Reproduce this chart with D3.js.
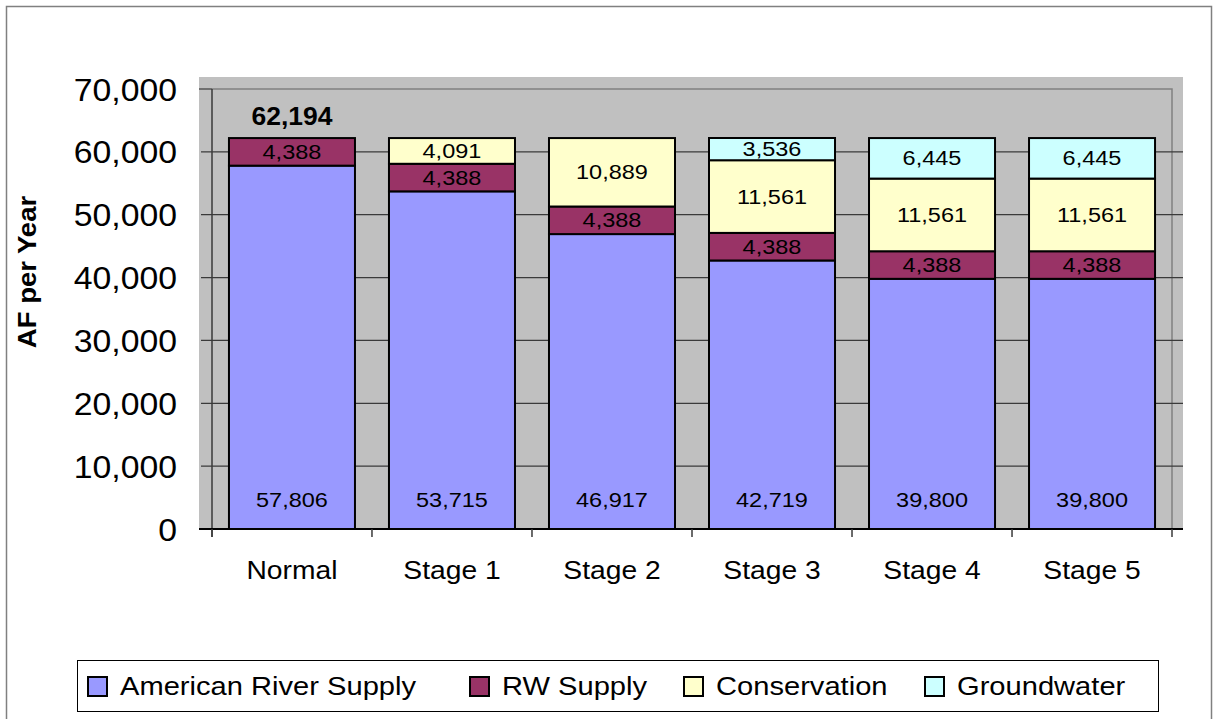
<!DOCTYPE html>
<html>
<head>
<meta charset="utf-8">
<script src="https://cdn.jsdelivr.net/npm/d3@7"></script>
<style>
  body { margin: 0; background: #fff; }
  svg { display: block; font-family: Arial, "Liberation Sans", sans-serif; }
</style>
</head>
<body>
<svg></svg>
<script>
var width = 1218;
var height = 719;

// data
var categories = ["Normal", "Stage 1", "Stage 2", "Stage 3", "Stage 4", "Stage 5"];
var seriesNames = ["American River Supply", "RW Supply", "Conservation", "Groundwater"];
var american = [57806, 53715, 46917, 42719, 39800, 39800];
var rwSupply = [4388, 4388, 4388, 4388, 4388, 4388];
var conservation = [0, 4091, 10889, 11561, 11561, 11561];
var groundwater = [0, 0, 0, 3536, 6445, 6445];
var yTicks = [0, 10000, 20000, 30000, 40000, 50000, 60000, 70000];
var colors = ["#9999FF", "#993366", "#FFFFCC", "#CCFFFF"];

var rows = categories.map(function(c, i) {
  return { cat: c, s0: american[i], s1: rwSupply[i], s2: conservation[i], s3: groundwater[i] };
});

var fmt = d3.format(",");
var SX = 1.12; // excel text comes out a bit wider than arial

// place a text at (px, py), stretched horizontally around that point
function stretched(sel, px, py, sx) {
  sel.attr("x", px).attr("y", py)
     .attr("transform", function(d, i) {
        var xx = typeof px === "function" ? px(d, i) : px;
        var yy = typeof py === "function" ? py(d, i) : py;
        return "translate(" + xx + "," + yy + ") scale(" + sx + ",1) translate(" + (-xx) + "," + (-yy) + ")";
     });
  return sel;
}

var svg = d3.select('svg')
            .attr('width', width)
            .attr('height', height);

// outer chart border
svg.append("rect")
   .attr("x", 6.5).attr("y", 6.5)
   .attr("width", 1205).attr("height", 720)
   .attr("fill", "none").attr("stroke", "#808080").attr("stroke-width", 1.5);

var x = d3.scaleBand()
          .domain(categories)
          .range([212, 1172])
          .paddingInner(0.2125)
          .paddingOuter(0.106);

var y = d3.scaleLinear()
          .domain([0, 70000])
          .range([529, 89]);

// plot area fill
svg.append("rect")
   .attr("x", 199).attr("y", 77)
   .attr("width", 984).attr("height", y(0) - 77)
   .attr("fill", "#C0C0C0");

// inner frame (top / right)
svg.append("path")
   .attr("d", "M212," + y(70000) + "H1172V" + y(0))
   .attr("fill", "none").attr("stroke", "#808080").attr("stroke-width", 1.5);

// gridlines
svg.append("g")
   .selectAll("line")
   .data(yTicks.filter(function(t) { return t > 0 && t < 70000; }))
   .enter()
   .append("line")
   .attr("x1", 201).attr("x2", 1183)
   .attr("y1", d => y(d)).attr("y2", d => y(d))
   .attr("stroke", "#3a3a3a").attr("stroke-width", 1.2);

svg.append("line")
   .attr("x1", 199).attr("x2", 212)
   .attr("y1", y(70000)).attr("y2", y(70000))
   .attr("stroke", "#3a3a3a").attr("stroke-width", 1.2);

// y axis line
svg.append("line")
   .attr("x1", 212).attr("x2", 212)
   .attr("y1", y(70000)).attr("y2", 537)
   .attr("stroke", "#3a3a3a").attr("stroke-width", 1.5);

// y tick labels
svg.append("g")
   .selectAll("text")
   .data(yTicks)
   .enter()
   .append("text")
   .call(stretched, 177, d => y(d) + 1, 1.09)
   .attr("text-anchor", "end")
   .attr("dominant-baseline", "central")
   .attr("font-size", 31)
   .attr("fill", "#000")
   .text(d => fmt(d));

// y title
svg.append("text")
   .attr("transform", "translate(27,272) rotate(-90) scale(1.1,1)")
   .attr("text-anchor", "middle")
   .attr("dominant-baseline", "central")
   .attr("font-size", 25)
   .attr("font-weight", "bold")
   .text("AF per Year");

// stacked bars
var stack = d3.stack().keys(["s0", "s1", "s2", "s3"]);
var stacked = stack(rows);

var layers = svg.append("g")
   .selectAll("g")
   .data(stacked)
   .enter()
   .append("g")
   .attr("fill", (d, i) => colors[i]);

layers.selectAll("rect")
   .data(d => d.filter(p => p[1] - p[0] > 0))
   .enter()
   .append("rect")
   .attr("x", d => x(d.data.cat))
   .attr("width", x.bandwidth())
   .attr("y", d => y(d[1]))
   .attr("height", d => y(d[0]) - y(d[1]))
   .attr("stroke", "#000")
   .attr("stroke-width", 2);

// x axis line + ticks
svg.append("line")
   .attr("x1", 199).attr("x2", 1183)
   .attr("y1", y(0)).attr("y2", y(0))
   .attr("stroke", "#000").attr("stroke-width", 2);

var edges = categories.map(c => x(c) - x.step() * x.paddingInner() / 2).concat([1172]);
edges[0] = 212;
svg.append("g")
   .selectAll("line")
   .data(edges)
   .enter()
   .append("line")
   .attr("x1", d => d).attr("x2", d => d)
   .attr("y1", y(0)).attr("y2", 537)
   .attr("stroke", "#3a3a3a").attr("stroke-width", 1.5);

// category labels
svg.append("g")
   .selectAll("text")
   .data(categories)
   .enter()
   .append("text")
   .call(stretched, d => x(d) + x.bandwidth() / 2, 571, 1.13)
   .attr("text-anchor", "middle")
   .attr("dominant-baseline", "central")
   .attr("font-size", 25)
   .text(d => d);

// segment labels
stacked.forEach(function(layer, li) {
  svg.append("g")
     .selectAll("text")
     .data(layer.filter(p => p[1] - p[0] > 0))
     .enter()
     .append("text")
     .call(stretched, d => x(d.data.cat) + x.bandwidth() / 2,
           d => li === 0 ? y(0) - 29 : (y(d[0]) + y(d[1])) / 2, SX)
     .attr("text-anchor", "middle")
     .attr("dominant-baseline", "central")
     .attr("font-size", 21)
     .attr("fill", "#000")
     .text(d => fmt(d[1] - d[0]));
});

// total label on the Normal bar
var normalTotal = american[0] + rwSupply[0] + conservation[0] + groundwater[0];
svg.append("text")
   .call(stretched, x("Normal") + x.bandwidth() / 2, y(normalTotal) - 22, 1.06)
   .attr("text-anchor", "middle")
   .attr("dominant-baseline", "central")
   .attr("font-size", 25)
   .attr("font-weight", "bold")
   .text(fmt(normalTotal));

// legend
svg.append("rect")
   .attr("x", 77.5).attr("y", 660.5)
   .attr("width", 1081).attr("height", 51)
   .attr("fill", "#fff").attr("stroke", "#000").attr("stroke-width", 1);

var legendX = [88, 470, 684, 925];
var legend = svg.append("g")
   .selectAll("g")
   .data(seriesNames)
   .enter()
   .append("g")
   .attr("transform", (d, i) => "translate(" + legendX[i] + ",686)");

legend.append("rect")
   .attr("x", 0).attr("y", -9)
   .attr("width", 19).attr("height", 19)
   .attr("fill", (d, i) => colors[i])
   .attr("stroke", "#000").attr("stroke-width", 2);

legend.append("text")
   .call(stretched, 32, 0, SX)
   .attr("dominant-baseline", "central")
   .attr("font-size", 26)
   .text(d => d);
</script>
</body>
</html>
